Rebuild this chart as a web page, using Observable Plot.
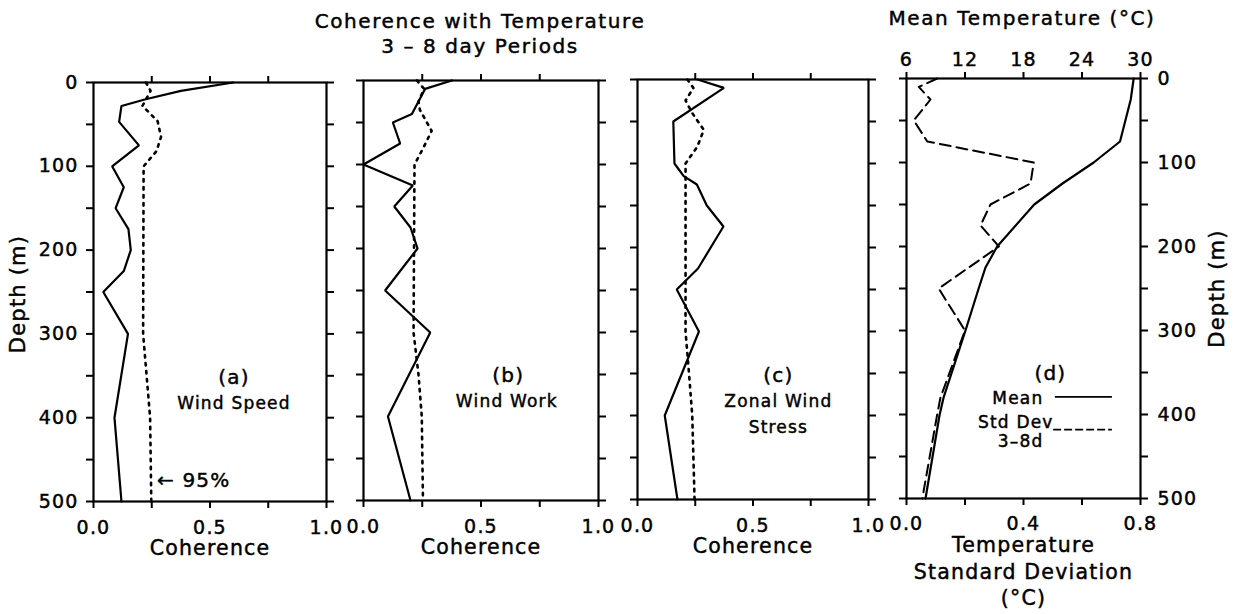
<!DOCTYPE html>
<html><head><meta charset="utf-8">
<script src="https://cdn.jsdelivr.net/npm/d3@7"></script>
<script src="https://cdn.jsdelivr.net/npm/@observablehq/plot@0.6"></script>
<style>
html,body{margin:0;padding:0;background:#fff;}
#chart{position:relative;width:1240px;height:614px;overflow:hidden;font-family:"DejaVu Sans",sans-serif;color:#000;background:#fff;}
#chart svg{position:absolute;top:0;}
#chart svg text{stroke:#000;stroke-width:0.45px;}
.t{position:absolute;white-space:nowrap;transform:translate(-50%,-50%);font-size:20px;letter-spacing:1.6px;line-height:1;-webkit-text-stroke:0.45px #000;}
</style></head><body><div id="chart">
<div class="t" style="left:480px;top:21px;">Coherence with Temperature</div>
<div class="t" style="left:480px;top:46px;">3 – 8 day Periods</div>
<div class="t" style="left:1022px;top:18px;">Mean Temperature (°C)</div>
</div>
<script>
// ---- Data ----
// Panel (a) Wind Speed
const depthWindSpeed = [0, 10, 20, 28, 47, 75, 100, 125, 150, 175, 200, 225, 250, 300, 400, 500];
const cohWindSpeed   = [0.60, 0.375, 0.224, 0.12, 0.11, 0.195, 0.08, 0.13, 0.095, 0.15, 0.16, 0.13, 0.042, 0.148, 0.09, 0.12];
const depthSigA = [0, 10, 28, 46, 65, 82, 100, 300, 400, 500];
const sigA      = [0.225, 0.245, 0.21, 0.275, 0.29, 0.27, 0.215, 0.213, 0.243, 0.248];
// Panel (b) Wind Work
const depthWindWork = [0, 10, 25, 40, 50, 75, 100, 125, 150, 175, 200, 250, 300, 400, 500];
const cohWindWork   = [0.376, 0.262, 0.234, 0.206, 0.125, 0.156, 0.0, 0.21, 0.131, 0.2, 0.23, 0.092, 0.284, 0.104, 0.2];
const depthSigB = [0, 10, 25, 35, 60, 80, 100, 300, 350, 400, 500];
const sigB      = [0.227, 0.258, 0.234, 0.24, 0.29, 0.255, 0.217, 0.213, 0.234, 0.248, 0.253];
// Panel (c) Zonal Wind Stress
const depthZonal = [0, 10, 50, 100, 115, 125, 150, 175, 225, 250, 300, 400, 500];
const cohZonal   = [0.26, 0.374, 0.155, 0.16, 0.2, 0.257, 0.3, 0.372, 0.262, 0.17, 0.266, 0.118, 0.173];
const depthSigC = [0, 10, 25, 40, 60, 80, 100, 300, 350, 400, 500];
const sigC      = [0.216, 0.242, 0.208, 0.237, 0.287, 0.259, 0.208, 0.208, 0.223, 0.237, 0.247];
// Panel (d) Mean temperature and 3-8 day standard deviation
const depthMean = [0, 25, 75, 100, 125, 150, 200, 225, 250, 300, 380, 400, 500];
const meanTemp  = [29.3, 29.0, 27.9, 25.2, 22.0, 19.1, 15.3, 14.1, 13.4, 12.05, 9.8, 9.4, 7.95];
const depthSD = [0, 10, 25, 50, 75, 100, 125, 150, 175, 200, 250, 300, 380, 400, 500];
const sdTemp  = [0.105, 0.042, 0.082, 0.025, 0.071, 0.435, 0.424, 0.287, 0.253, 0.316, 0.11, 0.2, 0.116, 0.105, 0.054];
// Ticks
const depthTicks = [0, 50, 100, 150, 200, 250, 300, 350, 400, 450, 500];
const depthLabels = [0, 100, 200, 300, 400, 500];
const cohTicks = [0, 0.25, 0.5, 0.75, 1];
const cohLabels = [0, 0.5, 1];
const tempTicks = [6, 12, 18, 24, 30];
const sdTicks = [0, 0.2, 0.4, 0.6, 0.8];
const sdLabels = [0, 0.4, 0.8];

const rows = (ds, vs) => ds.map((d, i) => ({depth: d, v: vs[i]}));
const FONT = "DejaVu Sans, sans-serif";
const chart = document.getElementById("chart");
const H = 614;
const svgStyle = {background: "transparent", fontFamily: FONT, fontSize: "19px", color: "#000", letterSpacing: "1.2px"};

function depthAxes(leftLabels, rightLabels, padL, padR) {
  return [
    Plot.axisY({anchor: "left", ticks: depthTicks, tickSize: 7, strokeWidth: 2, tickPadding: padL || 8,
      tickFormat: d => (leftLabels && depthLabels.includes(d)) ? String(d) : "", label: null}),
    Plot.axisY({anchor: "right", ticks: depthTicks, tickSize: 7, strokeWidth: 2, tickPadding: padR || 10,
      tickFormat: d => (rightLabels && depthLabels.includes(d)) ? String(d) : "", label: null})
  ];
}

function place(svg, left) {
  svg.style.left = left + "px";
  chart.appendChild(svg);
}

const lbl = {fontSize: 17};
const axTitle = {fontSize: 20.5, lineAnchor: "middle", textAnchor: "middle"};
const vTitle = {rotate: -90, fontSize: 21, textAnchor: "middle", lineAnchor: "middle"};

function cohPanel(o) {
  const svg = Plot.plot({
    width: o.width, height: H,
    marginLeft: o.mL, marginRight: o.mR, marginTop: o.mT, marginBottom: H - o.bottom,
    style: svgStyle,
    x: {domain: [0, 1]},
    y: {domain: [0, 500], reverse: true},
    marks: [
      Plot.line(rows(o.dSig, o.vSig), {x: "v", y: "depth", stroke: "#000", strokeWidth: 2.6, strokeDasharray: "2.5,5.5"}),
      Plot.line(rows(o.dSolid, o.vSolid), {x: "v", y: "depth", stroke: "#000", strokeWidth: 2.2, strokeLinejoin: "miter"}),
      Plot.frame({stroke: "#000", strokeWidth: 2.2}),
      ...depthAxes(o.leftLabels, false),
      Plot.axisX({anchor: "top", ticks: [0.25, 0.5, 0.75], tickSize: 7, strokeWidth: 2, tickFormat: () => "", label: null}),
      Plot.axisX({anchor: "bottom", ticks: cohTicks, tickSize: 7, strokeWidth: 2, tickPadding: 12,
        tickFormat: d => cohLabels.includes(d) ? d.toFixed(1) : "", label: null}),
      Plot.text(["Coherence"], {frameAnchor: "bottom", dy: 47, ...axTitle}),
      ...o.extra
    ]
  });
  place(svg, o.left);
}

// Panel (a)
cohPanel({
  left: 0, width: 345, mL: 93, mR: 19, mT: 82, bottom: 501,
  dSolid: depthWindSpeed, vSolid: cohWindSpeed, dSig: depthSigA, vSig: sigA, leftLabels: true,
  extra: [
    Plot.text(["Depth (m)"], {frameAnchor: "left", dx: -75, dy: 2, ...vTitle}),
    Plot.text(["(a)"], {x: 0.603, y: 352, fontSize: 20}),
    Plot.text(["Wind Speed"], {x: 0.603, y: 383, ...lbl}),
    Plot.text(["← 95%"], {x: 0.272, y: 475, textAnchor: "start", fontSize: 20})
  ]
});
// Panel (b)
cohPanel({
  left: 345, width: 272, mL: 18, mR: 19, mT: 80, bottom: 500,
  dSolid: depthWindWork, vSolid: cohWindWork, dSig: depthSigB, vSig: sigB, leftLabels: false,
  extra: [
    Plot.text(["(b)"], {x: 0.616, y: 351, fontSize: 20}),
    Plot.text(["Wind Work"], {x: 0.61, y: 382, ...lbl})
  ]
});
// Panel (c)
cohPanel({
  left: 617, width: 269, mL: 20, mR: 18, mT: 79, bottom: 499,
  dSolid: depthZonal, vSolid: cohZonal, dSig: depthSigC, vSig: sigC, leftLabels: false,
  extra: [
    Plot.text(["(c)"], {x: 0.61, y: 353, fontSize: 20}),
    Plot.text(["Zonal Wind"], {x: 0.61, y: 383, ...lbl}),
    Plot.text(["Stress"], {x: 0.61, y: 414, ...lbl})
  ]
});

// Panel (d): standard deviation scale (bottom) with frame, depth axes and legend
const dLeft = 886, dWidth = 354, dML = 20, dMR = 100, dMT = 78, dBottom = 498;
const svgSD = Plot.plot({
  width: dWidth, height: H,
  marginLeft: dML, marginRight: dMR, marginTop: dMT, marginBottom: H - dBottom,
  style: svgStyle,
  x: {domain: [0, 0.8]},
  y: {domain: [0, 500], reverse: true},
  marks: [
    Plot.line(rows(depthSD, sdTemp), {x: "v", y: "depth", stroke: "#000", strokeWidth: 2, strokeDasharray: "11,6"}),
    Plot.frame({stroke: "#000", strokeWidth: 2.2}),
    ...depthAxes(false, true, 9, 10),
    Plot.axisX({anchor: "bottom", ticks: sdTicks, tickSize: 7, strokeWidth: 2, tickPadding: 11,
      tickFormat: d => sdLabels.includes(d) ? d.toFixed(1) : "", label: null}),
    Plot.text(["Depth (m)"], {frameAnchor: "right", dx: 77, ...vTitle}),
    Plot.text(["Temperature"], {frameAnchor: "bottom", dy: 47, ...axTitle}),
    Plot.text(["Standard Deviation"], {frameAnchor: "bottom", dy: 74, ...axTitle}),
    Plot.text(["(°C)"], {frameAnchor: "bottom", dy: 100, ...axTitle}),
    Plot.text(["(d)"], {x: 0.492, y: 351, fontSize: 20}),
    Plot.text(["Mean"], {x: 0.468, y: 381, textAnchor: "end", ...lbl}),
    Plot.ruleY([379], {x1: 0.509, x2: 0.704, stroke: "#000", strokeWidth: 1.8}),
    Plot.text(["Std Dev"], {x: 0.503, y: 410, textAnchor: "end", ...lbl}),
    Plot.ruleY([418], {x1: 0.503, x2: 0.704, stroke: "#000", strokeWidth: 1.8, strokeDasharray: "8,3"}),
    Plot.text(["3–8d"], {x: 0.39, y: 432, ...lbl})
  ]
});
place(svgSD, dLeft);

// Panel (d): mean temperature scale (top)
const svgT = Plot.plot({
  width: dWidth, height: H,
  marginLeft: dML, marginRight: dMR, marginTop: dMT, marginBottom: H - dBottom,
  style: svgStyle,
  x: {domain: [6, 30]},
  y: {domain: [0, 500], reverse: true, axis: null},
  marks: [
    Plot.line(rows(depthMean, meanTemp), {x: "v", y: "depth", stroke: "#000", strokeWidth: 2.2}),
    Plot.axisX({anchor: "top", ticks: tempTicks, tickSize: 7, strokeWidth: 2, tickPadding: 6,
      tickFormat: d => String(d), label: null})
  ]
});
place(svgT, dLeft);
</script>
</body></html>
